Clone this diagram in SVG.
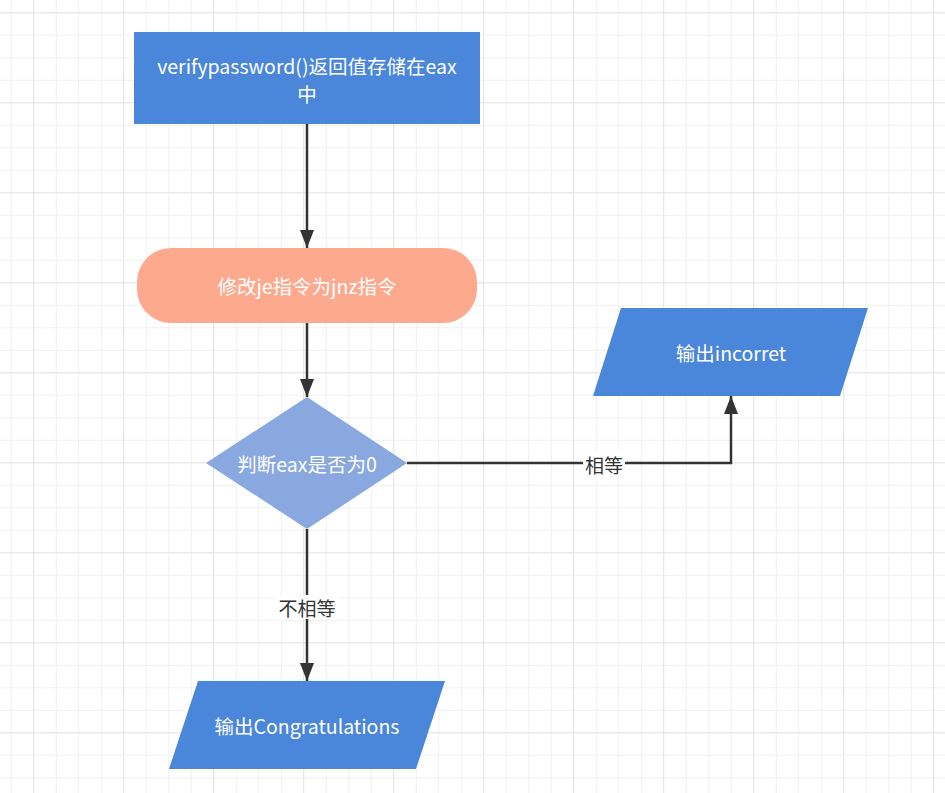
<svg xmlns="http://www.w3.org/2000/svg" width="945" height="793" viewBox="0 0 945 793">
  <defs>
    <pattern id="minor" patternUnits="userSpaceOnUse" x="10.8" y="12.3" width="22.5" height="22.5">
      <path d="M0.5 0V22.5M0 0.5H22.5" stroke="#f0f0f0" stroke-width="1" fill="none"/>
    </pattern>
    <pattern id="major" patternUnits="userSpaceOnUse" x="33" y="12.3" width="90" height="90">
      <path d="M0.5 0V90M0 0.5H90" stroke="#e6e6e6" stroke-width="1.2" fill="none"/>
    </pattern>
    <marker id="arrow" viewBox="0 0 18 14" refX="18" refY="7" markerWidth="18" markerHeight="14" markerUnits="userSpaceOnUse" orient="auto">
      <path d="M0 0L18 7L0 14Z" fill="#333333"/>
    </marker>
  </defs>
  <style>
    .node-text { font-family: "Noto Sans CJK SC", "Liberation Sans", sans-serif; font-size: 19.5px; fill: #ffffff; text-anchor: middle; dominant-baseline: central; }
    .label { font-family: "Noto Sans CJK SC", "Liberation Sans", sans-serif; font-size: 19px; fill: #333333; text-anchor: middle; dominant-baseline: central; }
    .edge { stroke: #333333; stroke-width: 2.5; fill: none; marker-end: url(#arrow); }
    .blue { fill: #4a86d9; }
  </style>
  <rect width="945" height="793" fill="#ffffff"/>
  <rect width="945" height="793" fill="url(#minor)"/>
  <rect width="945" height="793" fill="url(#major)"/>

  <g id="connectors">
    <path class="edge" d="M307 124V248"/>
    <path class="edge" d="M307 323V397"/>
    <path class="edge" d="M407 463H731V396"/>
    <path class="edge" d="M307 529V681"/>
    <rect x="583" y="452" width="42" height="24" fill="#ffffff"/>
    <text class="label" x="604" y="464">相等</text>
    <rect x="276" y="595" width="62" height="24" fill="#ffffff"/>
    <text class="label" x="307" y="607">不相等</text>
  </g>

  <g id="node-verify">
    <rect class="blue" x="134" y="32" width="346" height="92"/>
    <text class="node-text" x="307" y="65">verifypassword()返回值存储在eax</text>
    <text class="node-text" x="307" y="93">中</text>
  </g>

  <g id="node-modify">
    <rect x="137" y="248" width="340" height="75" rx="34" ry="34" fill="#fca98d"/>
    <text class="node-text" x="307" y="285">修改je指令为jnz指令</text>
  </g>

  <g id="node-decision">
    <polygon points="307,397 407,463 307,529 206,463" fill="#89a8e0"/>
    <text class="node-text" x="307" y="463">判断eax是否为0</text>
  </g>

  <g id="node-incorrect">
    <polygon class="blue" points="621,308 868,308 840,396 593,396"/>
    <text class="node-text" x="731" y="352">输出incorret</text>
  </g>

  <g id="node-congrats">
    <polygon class="blue" points="198,681 445,681 416,769 169,769"/>
    <text class="node-text" x="307" y="725">输出Congratulations</text>
  </g>
</svg>
